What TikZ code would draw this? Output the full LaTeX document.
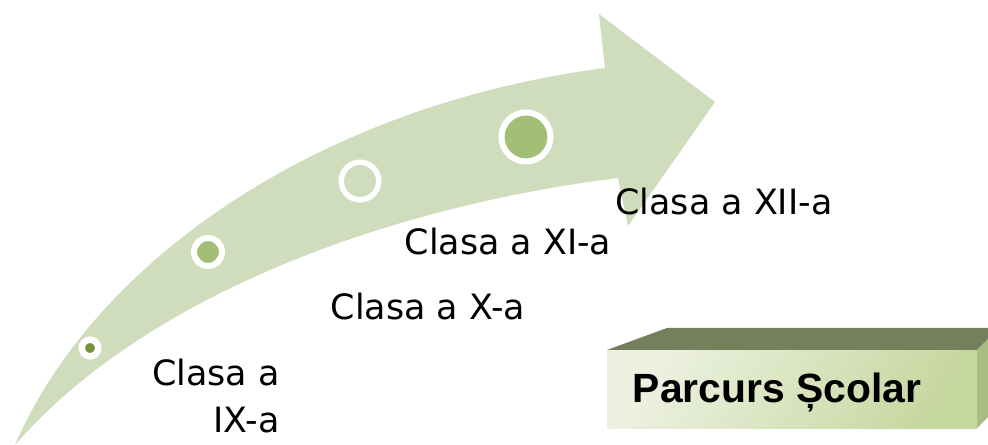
\documentclass[tikz,border=0pt]{standalone}
\usepackage{fontspec}
\setmainfont{DejaVu Sans}
\newfontfamily\boxfont{Liberation Sans}
\definecolor{band}{RGB}{208,221,189}
\definecolor{dotdark}{RGB}{118,146,60}
\definecolor{dotgreen}{RGB}{163,190,117}
\definecolor{boxtop}{RGB}{117,127,91}
\definecolor{boxside}{RGB}{168,187,128}
\definecolor{boxgreen}{RGB}{199,215,160}
\definecolor{boxlight}{RGB}{236,241,224}
\begin{document}
\begin{tikzpicture}[x=1bp,y=-1bp,
  gradelabel/.style={font=\fontsize{35}{47}\selectfont, inner sep=0pt},
  dotnode/.style={circle, draw=white, inner sep=0pt, outer sep=0pt},
  facebox/.style={rectangle, inner sep=0pt, minimum width=370bp, minimum height=78bp,
    left color=boxlight, right color=boxgreen, shading angle=60}
]
\useasboundingbox (0,0) rectangle (988,445);
% curved arrow
\fill[band] (15,445) .. controls (95,260) and (320,105) .. (605,68) -- (599,14) -- (715,102)
  -- (628,226) -- (618,178) .. controls (400,205) and (150,290) .. (15,445) -- cycle;
% dots
\node[dotnode, line width=6.5bp, minimum size=16.5bp, fill=dotdark] (d1) at (90,348) {};
\node[dotnode, line width=6bp, minimum size=28bp, fill=dotgreen] (d2) at (208,252) {};
\node[dotnode, line width=5.5bp, minimum size=37.5bp] (d3) at (360,181) {};
\node[dotnode, line width=6bp, minimum size=49bp, fill=dotgreen] (d4) at (526,137) {};
% labels
\node[gradelabel, anchor=base] (l12) at (724,215) {Clasa a XII-a};
\node[gradelabel, anchor=base] (l11) at (508,255) {Clasa a XI-a};
\node[gradelabel, anchor=base] (l10) at (428,320) {Clasa a X-a};
\node[gradelabel, anchor=base east, align=right] (l9) at (280,432) {Clasa a\\IX-a};
% 3D box
\fill[boxtop] (607,350) -- (667,328) -- (988,328) -- (988,339) -- (977,350) -- cycle;
\fill[boxside] (977,350) -- (988,339) -- (988,417) -- (977,428) -- cycle;
\node[facebox, anchor=north west] (face) at (607,350) {};
\node[font=\boxfont\bfseries\fontsize{41}{48}\selectfont, inner sep=0pt, anchor=base] (title) at (777,402) {Parcurs Școlar};
\end{tikzpicture}
\end{document}
